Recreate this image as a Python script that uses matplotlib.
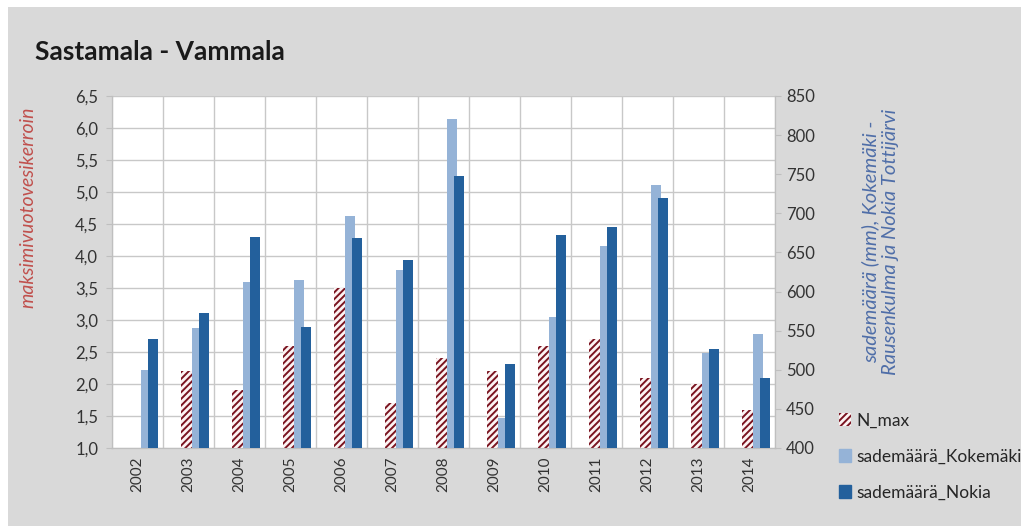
import matplotlib.pyplot as plt
import matplotlib.patches as mpatches
import numpy as np

plt.rcParams['font.family'] = ['Lato', 'DejaVu Sans']
plt.rcParams['hatch.linewidth'] = 1.4

years = ['2002', '2003', '2004', '2005', '2006', '2007', '2008',
         '2009', '2010', '2011', '2012', '2013', '2014']
n_max = [np.nan, 2.2, 1.9, 2.6, 3.5, 1.7, 2.4, 2.2, 2.6, 2.7, 2.1, 2.0, 1.6]
kokemaki = [500, 554, 612, 615, 697, 628, 821, 438, 568, 658, 736, 522, 546]
nokia = [539, 573, 670, 555, 668, 640, 748, 508, 672, 682, 720, 527, 490]
left_ticks = ['1,0', '1,5', '2,0', '2,5', '3,0', '3,5', '4,0', '4,5',
              '5,0', '5,5', '6,0', '6,5']

W, H = 1023, 526
fig = plt.figure(figsize=(W / 100, H / 100), dpi=100, facecolor='white')
fig.patches.append(mpatches.Rectangle((8 / W, 0), 1013 / W, 1 - 7 / H,
                                      transform=fig.transFigure,
                                      facecolor='#d9d9d9', edgecolor='none', zorder=-10))

ax = fig.add_axes([112 / W, 1 - 448 / H, 663 / W, 352 / H])
ax2 = ax.twinx()

x = np.arange(len(years))
tick_col = '#333333'
grid_col = '#c8c8c8'
red = '#7a1420'

# primary axis: N_max (hatched)
ax.bar(x - 0.04, n_max, width=0.215, facecolor='#fdf3f3', edgecolor=red,
       hatch='/////', linewidth=0, zorder=3)

# secondary axis: precipitation
ax2.bar(x + 0.17, kokemaki, width=0.2, color='#95b3d7', zorder=3)
ax2.bar(x + 0.305, nokia, width=0.2, color='#23609c', zorder=4)

ax.set_xlim(-0.5, len(years) - 0.5)
ax.set_ylim(1.0, 6.5)
ax2.set_ylim(400, 850)

ax.set_facecolor('white')
ax.set_yticks(np.arange(1.0, 6.51, 0.5))
ax.set_yticklabels(left_ticks)
ax2.set_yticks(np.arange(400, 851, 50))

ax.set_xticks(x)
ax.set_xticklabels(years, rotation=90)
ax.set_xticks(np.arange(-0.5, len(years), 1), minor=True)
ax.grid(axis='y', which='major', color=grid_col, linewidth=1)
ax.grid(axis='x', which='minor', color=grid_col, linewidth=1)
ax.set_axisbelow(True)

for a in (ax, ax2):
    a.spines['top'].set_visible(False)
    for s in ('left', 'right', 'bottom'):
        a.spines[s].set_color('#bfbfbf')
    a.tick_params(colors=tick_col, labelsize=12, length=4, width=0.8)
    a.tick_params(axis='both', color='#bfbfbf')
ax.tick_params(axis='x', which='both', length=0, pad=6, labelsize=11)
ax.tick_params(axis='y', pad=6)
ax2.tick_params(axis='y', pad=4)

fig.text(35 / W, 1 - 60 / H, 'Sastamala - Vammala', fontsize=19,
         fontweight='bold', color='#1a1a1a', ha='left', va='baseline')

fig.text(28 / W, 1 - 207 / H, 'maksimivuotovesikerroin', rotation=90,
         style='italic', fontsize=14, color='#c0504d', ha='center', va='center')
fig.text(880 / W, 1 - 242 / H, 'sademäärä (mm), Kokemäki -\nRausenkulma ja Nokia Tottijärvi',
         rotation=90, style='italic', fontsize=14.5, color='#4f6ea8',
         ha='center', va='center', linespacing=1.25)

handles = [mpatches.Patch(facecolor='#fdf3f3', edgecolor=red, hatch='/////', linewidth=0),
           mpatches.Patch(color='#95b3d7'),
           mpatches.Patch(color='#23609c')]
labels = ['N_max', 'sademäärä_Kokemäki', 'sademäärä_Nokia']
fig.legend(handles, labels, loc='upper left', bbox_to_anchor=(823 / W, 1 - 397 / H),
           frameon=False, fontsize=12.5, handlelength=0.7, handleheight=0.7,
           handletextpad=0.35, labelspacing=1.15, labelcolor='#262626')

fig.savefig('out.png', dpi=100, facecolor=fig.get_facecolor())
